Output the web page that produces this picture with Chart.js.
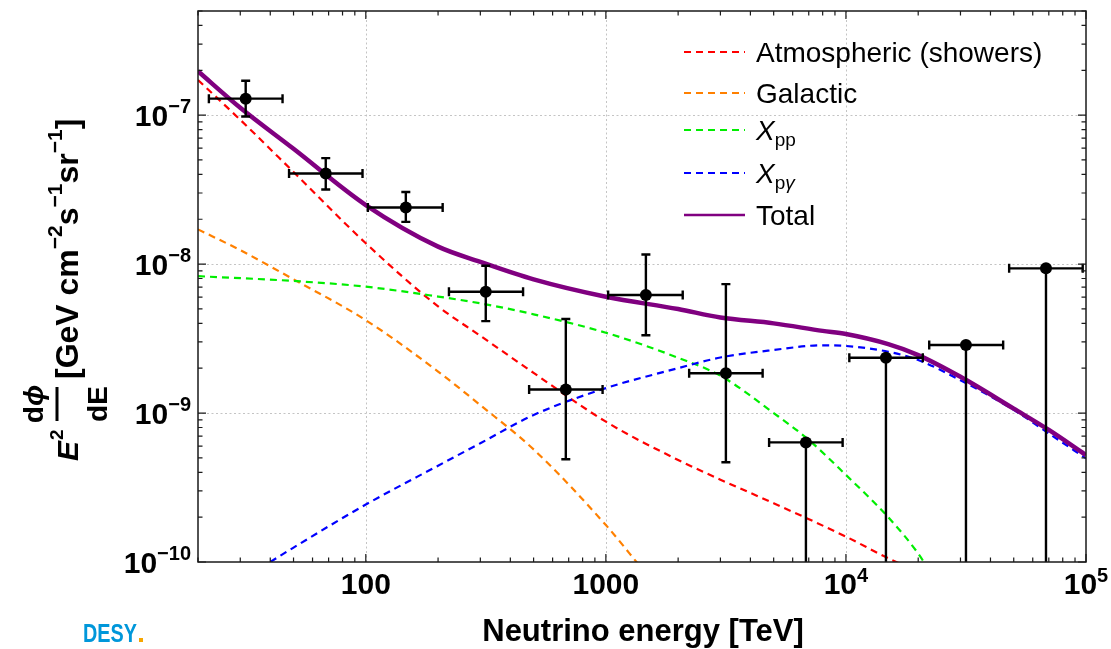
<!DOCTYPE html>
<html>
<head>
<meta charset="utf-8">
<title>Neutrino flux</title>
<script src="https://cdn.jsdelivr.net/npm/chart.js@4.4.1/dist/chart.umd.min.js"></script>
<style>
  html, body { margin: 0; padding: 0; background: #fff; }
  #wrap { width: 1111px; height: 649px; }
</style>
</head>
<body>
<div id="wrap"><canvas id="chart" width="1111" height="649"></canvas></div>
<script>
// =========================
// DATA
// =========================
// binned measurements: energy [TeV], horizontal bar ends, flux and vertical bar ends
const ptE     = [31.6, 68.1, 146.8, 316, 681, 1468, 3162, 6813, 14678, 31623, 68129];
const ptELow  = [22.2, 47.9, 102, 222, 479, 1022, 2223, 4786, 10330, 22230, 47850];
const ptEHigh = [45, 96.9, 209, 452, 969, 2090, 4498, 9688, 20900, 45180, 96900];
const ptFlux  = [1.29e-7, 4.06e-8, 2.4e-8, 6.52e-9, 1.44e-9, 6.2e-9, 1.85e-9, 6.35e-10, 2.35e-9, 2.86e-9, 9.36e-9];
const ptHigh  = [1.7e-7, 5.14e-8, 3.05e-8, 9.75e-9, 4.28e-9, 1.16e-8, 7.34e-9, 6.35e-10, 2.35e-9, 2.86e-9, 9.36e-9];
const ptLow   = [9.8e-8, 3.17e-8, 1.92e-8, 4.14e-9, 4.9e-10, 3.33e-9, 4.67e-10, 0, 0, 0, 0];

// model curves
const atmE    = [20, 30, 50, 100, 200, 300, 500, 1000, 2000, 3000, 5000, 10000, 15000, 20000];
const atmFlux = [1.72e-7, 9.3e-8, 4.15e-8, 1.38e-8, 5.2e-9, 3.3e-9, 1.86e-9, 8.75e-10, 4.84e-10, 3.57e-10, 2.48e-10, 1.48e-10, 1.06e-10, 8.6e-11];

const galE    = [20, 30, 50, 100, 200, 300, 500, 1000, 1400];
const galFlux = [1.71e-8, 1.24e-8, 7.9e-9, 4.2e-9, 1.9e-9, 1.13e-9, 5.7e-10, 1.77e-10, 9.2e-11];

const ppE     = [20, 50, 100, 200, 300, 500, 1000, 2000, 3000, 5000, 7000, 10000, 15000, 20000, 22000];
const ppFlux  = [8.3e-9, 7.7e-9, 7.05e-9, 6.05e-9, 5.45e-9, 4.6e-9, 3.46e-9, 2.35e-9, 1.78e-9, 1.0e-9, 6.6e-10, 3.84e-10, 2.0e-10, 1.14e-10, 9e-11];

const pgE     = [40, 50, 100, 200, 300, 500, 1000, 2000, 3000, 5000, 8000, 10000, 15000, 20000, 30000, 50000, 70000, 100000];
const pgFlux  = [1.0e-10, 1.25e-10, 2.43e-10, 4.43e-10, 6.27e-10, 9.7e-10, 1.47e-9, 2.0e-9, 2.36e-9, 2.65e-9, 2.85e-9, 2.82e-9, 2.58e-9, 2.27e-9, 1.66e-9, 1.05e-9, 7.3e-10, 4.96e-10];

const totE    = [20, 30, 50, 100, 200, 300, 500, 1000, 2000, 3000, 5000, 8000, 10000, 15000, 20000, 30000, 50000, 70000, 100000];
const totFlux = [1.97e-7, 1.12e-7, 5.94e-8, 2.49e-8, 1.31e-8, 1.035e-8, 7.9e-9, 6.04e-9, 4.99e-9, 4.38e-9, 4.0e-9, 3.56e-9, 3.39e-9, 2.9e-9, 2.45e-9, 1.75e-9, 1.07e-9, 7.7e-10, 5.22e-10];

// axis ticks
const xMajor = [100, 1000, 10000, 100000];
const xLabels = [['100', ''], ['1000', ''], ['10', '4'], ['10', '5']];
const yMajor = [1e-7, 1e-8, 1e-9, 1e-10];
const yLabels = [['10', '\u22127'], ['10', '\u22128'], ['10', '\u22129'], ['10', '\u221210']];

const seriesNames = ['Atmospheric (showers)', 'Galactic', 'Xpp', 'Xp\u03b3', 'Total'];
const seriesColors = ['#ff0000', '#ff8000', '#00ee00', '#0000ff', '#800080'];

const FONT = '"Liberation Sans", Arial, Helvetica, sans-serif';

function pts(xs, ys) {
    return xs.map((x, i) => ({ x: x, y: ys[i] }));
}

function curve(label, xs, ys, color, dashed, width, order) {
    return {
        label: label,
        data: pts(xs, ys),
        showLine: true,
        borderColor: color,
        backgroundColor: color,
        borderWidth: width,
        borderDash: dashed ? [7, 5] : [],
        pointRadius: 0,
        cubicInterpolationMode: 'monotone',
        order: order
    };
}

// minor tick positions (2..9 x 10^d) inside a range
function minorTicks(lo, hi, dMin, dMax) {
    const out = [];
    for (let d = dMin; d <= dMax; d++) {
        for (let k = 1; k <= 9; k++) {
            const v = k * Math.pow(10, d);
            if (v >= lo * 0.999 && v <= hi * 1.001) out.push({ v: v, major: k === 1 });
        }
    }
    return out;
}

// =========================
// PLUGIN: grid, error bars, frame, labels, legend
// =========================
const decorPlugin = {
    id: 'decor',
    beforeDatasetsDraw(chart) {
        const { ctx, chartArea: a, scales: { x, y } } = chart;
        ctx.save();
        ctx.strokeStyle = '#c4c4c4';
        ctx.lineWidth = 1;
        ctx.setLineDash([2, 2.5]);
        [100, 1000, 10000].forEach(v => {
            const px = Math.round(x.getPixelForValue(v)) + 0.5;
            ctx.beginPath(); ctx.moveTo(px, a.top); ctx.lineTo(px, a.bottom); ctx.stroke();
        });
        [1e-7, 1e-8, 1e-9].forEach(v => {
            const py = Math.round(y.getPixelForValue(v)) + 0.5;
            ctx.beginPath(); ctx.moveTo(a.left, py); ctx.lineTo(a.right, py); ctx.stroke();
        });
        ctx.restore();
    },
    afterDatasetsDraw(chart) {
        const { ctx, chartArea: a, scales: { x, y } } = chart;
        ctx.save();
        ctx.beginPath();
        ctx.rect(a.left, a.top, a.right - a.left, a.bottom - a.top);
        ctx.clip();
        ctx.strokeStyle = '#000';
        ctx.lineWidth = 2.4;
        const cap = 4.5;
        ptE.forEach((e, i) => {
            const px = x.getPixelForValue(e);
            const py = y.getPixelForValue(ptFlux[i]);
            const x0 = x.getPixelForValue(ptELow[i]);
            const x1 = x.getPixelForValue(ptEHigh[i]);
            const yHi = y.getPixelForValue(ptHigh[i]);
            const yLo = ptLow[i] > 0 ? y.getPixelForValue(ptLow[i]) : a.bottom + 5;
            ctx.beginPath();
            ctx.moveTo(x0, py); ctx.lineTo(x1, py);
            ctx.moveTo(x0, py - cap); ctx.lineTo(x0, py + cap);
            ctx.moveTo(x1, py - cap); ctx.lineTo(x1, py + cap);
            ctx.moveTo(px, yHi); ctx.lineTo(px, yLo);
            if (ptHigh[i] > ptFlux[i]) { ctx.moveTo(px - cap, yHi); ctx.lineTo(px + cap, yHi); }
            if (ptLow[i] > 0) { ctx.moveTo(px - cap, yLo); ctx.lineTo(px + cap, yLo); }
            ctx.stroke();
        });
        ctx.restore();
    },
    afterDraw(chart) {
        const { ctx, chartArea: a, scales: { x, y } } = chart;
        ctx.save();

        // frame
        ctx.strokeStyle = '#1a1a1a';
        ctx.lineWidth = 1.5;
        ctx.strokeRect(a.left, a.top, a.right - a.left, a.bottom - a.top);

        // inward ticks on all four sides
        ctx.lineWidth = 1.2;
        ctx.beginPath();
        minorTicks(20, 1e5, 1, 5).forEach(t => {
            const px = x.getPixelForValue(t.v);
            const len = t.major ? 8 : 4.5;
            ctx.moveTo(px, a.bottom); ctx.lineTo(px, a.bottom - len);
            ctx.moveTo(px, a.top); ctx.lineTo(px, a.top + len);
        });
        minorTicks(1e-10, 5e-7, -10, -7).forEach(t => {
            const py = y.getPixelForValue(t.v);
            const len = t.major ? 8 : 4.5;
            ctx.moveTo(a.left, py); ctx.lineTo(a.left + len, py);
            ctx.moveTo(a.right, py); ctx.lineTo(a.right - len, py);
        });
        ctx.stroke();

        ctx.fillStyle = '#000';
        ctx.textBaseline = 'alphabetic';

        // x tick labels
        xMajor.forEach((v, i) => {
            const px = x.getPixelForValue(v);
            const [base, sup] = xLabels[i];
            ctx.font = 'bold 30px ' + FONT;
            const wb = ctx.measureText(base).width;
            ctx.font = 'bold 20px ' + FONT;
            const ws = sup ? ctx.measureText(sup).width : 0;
            const x0 = px - (wb + ws) / 2;
            ctx.textAlign = 'left';
            ctx.font = 'bold 30px ' + FONT;
            ctx.fillText(base, x0, 594);
            if (sup) {
                ctx.font = 'bold 20px ' + FONT;
                ctx.fillText(sup, x0 + wb, 582);
            }
        });

        // y tick labels
        yMajor.forEach((v, i) => {
            const py = y.getPixelForValue(v);
            const [base, sup] = yLabels[i];
            ctx.font = 'bold 20px ' + FONT;
            const ws = ctx.measureText(sup).width;
            ctx.font = 'bold 30px ' + FONT;
            const wb = ctx.measureText(base).width;
            const x0 = 191 - ws - wb;
            ctx.textAlign = 'left';
            ctx.fillText(base, x0, py + 10.5);
            ctx.font = 'bold 20px ' + FONT;
            ctx.fillText(sup, x0 + wb, py - 2);
        });

        // x axis title
        ctx.textAlign = 'center';
        ctx.font = 'bold 31px ' + FONT;
        ctx.fillText('Neutrino energy [TeV]', 643, 641);

        // y axis title (rotated)
        ctx.save();
        ctx.translate(78, 461);
        ctx.rotate(-Math.PI / 2);
        ctx.textAlign = 'left';
        ctx.font = 'italic bold 30px ' + FONT;
        ctx.fillText('E', 0, 0);
        const wE = ctx.measureText('E').width;
        ctx.font = 'bold 19px ' + FONT;
        ctx.fillText('2', wE + 1, -15);
        // fraction d(phi)/dE
        const fc = 57;
        ctx.fillRect(fc - 17, -22.5, 34, 3);
        ctx.font = 'bold 28px ' + FONT;
        const wd = ctx.measureText('d').width;
        ctx.font = 'italic bold 28px ' + FONT;
        const wphi = ctx.measureText('\u03d5').width;
        let u = fc - (wd + wphi) / 2;
        ctx.font = 'bold 28px ' + FONT;
        ctx.fillText('d', u, -35);
        ctx.font = 'italic bold 28px ' + FONT;
        ctx.fillText('\u03d5', u + wd, -35);
        ctx.font = 'bold 28px ' + FONT;
        ctx.textAlign = 'center';
        ctx.fillText('dE', fc, 29);
        ctx.textAlign = 'left';
        // unit bracket
        const runs = [
            ['[GeV cm', 32, 0], ['\u22122', 21, -16], ['s', 32, 0], ['\u22121', 21, -16],
            ['sr', 32, 0], ['\u22121', 21, -16], [']', 32, 0]
        ];
        u = 82;
        runs.forEach(([t, size, dv]) => {
            ctx.font = 'bold ' + size + 'px ' + FONT;
            ctx.fillText(t, u, dv);
            u += ctx.measureText(t).width;
        });
        ctx.restore();

        // legend
        const rows = [52, 93, 130, 173, 215];
        rows.forEach((ry, i) => {
            ctx.strokeStyle = seriesColors[i];
            ctx.lineWidth = i === 4 ? 2.6 : 2;
            ctx.setLineDash(i === 4 ? [] : [7, 5]);
            ctx.beginPath(); ctx.moveTo(684, ry); ctx.lineTo(745, ry); ctx.stroke();
            ctx.setLineDash([]);
            ctx.fillStyle = '#000';
            ctx.textAlign = 'left';
            const base = ry + 10;
            if (i === 2 || i === 3) {
                ctx.font = 'italic 28px ' + FONT;
                ctx.fillText('X', 756, base);
                const wx = ctx.measureText('X').width;
                ctx.font = '19px ' + FONT;
                ctx.fillText('p', 756 + wx, base + 6);
                const wp = ctx.measureText('p').width;
                if (i === 2) {
                    ctx.fillText('p', 756 + wx + wp, base + 6);
                } else {
                    ctx.font = 'italic 19px ' + FONT;
                    ctx.fillText('\u03b3', 756 + wx + wp, base + 6);
                }
            } else {
                ctx.font = '28px ' + FONT;
                ctx.fillText(seriesNames[i], 756, base);
            }
        });

        // DESY mark
        ctx.font = 'bold 25px "Liberation Sans Narrow", ' + FONT;
        const wDesy = ctx.measureText('DESY').width;
        ctx.save();
        ctx.translate(83, 642);
        ctx.scale(54 / wDesy, 1);
        ctx.fillStyle = '#0097da';
        ctx.fillText('DESY', 0, 0);
        ctx.restore();
        ctx.fillStyle = '#f7a600';
        ctx.fillRect(139, 638, 4, 4);

        ctx.restore();
    }
};

// =========================
// CHART
// =========================
const chart = new Chart(document.getElementById('chart').getContext('2d'), {
    type: 'scatter',
    data: {
        datasets: [
            {
                label: 'Data',
                data: pts(ptE, ptFlux),
                pointRadius: 6,
                pointHoverRadius: 6,
                backgroundColor: '#000',
                borderColor: '#000',
                borderWidth: 0,
                showLine: false,
                order: 0
            },
            curve('Total', totE, totFlux, '#800080', false, 4.5, 1),
            curve('Xpg', pgE, pgFlux, '#0000ff', true, 2.2, 2),
            curve('Xpp', ppE, ppFlux, '#00ee00', true, 2.2, 3),
            curve('Atmospheric (showers)', atmE, atmFlux, '#ff0000', true, 2.2, 4),
            curve('Galactic', galE, galFlux, '#ff8000', true, 2.2, 5)
        ]
    },
    options: {
        responsive: false,
        animation: false,
        layout: { padding: { left: 198, top: 11, right: 25, bottom: 87 } },
        plugins: { legend: { display: false }, tooltip: { enabled: false } },
        scales: {
            x: { type: 'logarithmic', min: 20, max: 100000, display: false },
            y: { type: 'logarithmic', min: 1e-10, max: 5e-7, display: false }
        }
    },
    plugins: [decorPlugin]
});
</script>
</body>
</html>
